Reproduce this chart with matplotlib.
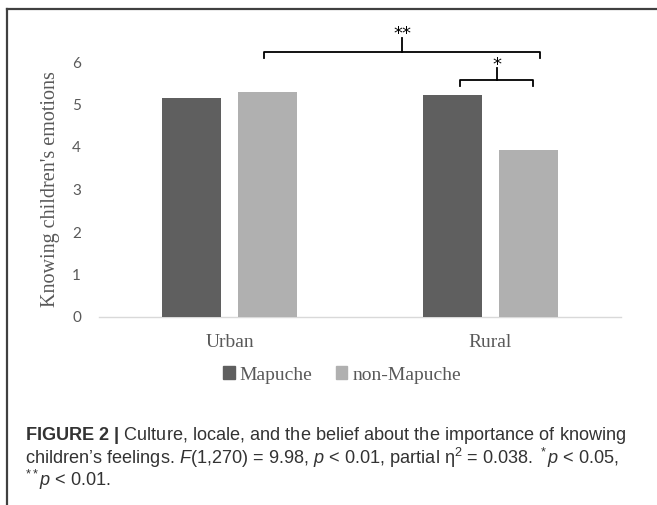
import numpy as np
import matplotlib
matplotlib.use("Agg")
import matplotlib.pyplot as plt
from matplotlib.lines import Line2D
import matplotlib.patches as mpatches

# ── Data ──────────────────────────────────────────────────────────────────────
locales      = ["Urban", "Rural"]
groups       = ["Mapuche", "non-Mapuche"]
mapuche      = [5.16, 5.22]
non_mapuche  = [5.29, 3.92]
yticks       = [0, 1, 2, 3, 4, 5, 6]

# significance brackets: (x0, x1, y, stem, label_offset, label) in data units
brackets = [
    (0.132, 1.190, 6.23, 0.33, 0.31, "**"),
    (0.883, 1.163, 5.58, 0.28, 0.24, "*"),
]

DARK  = "#5f5f5f"
LIGHT = "#b0b0b0"
GRAY_TXT = "#595959"

plt.rcParams["mathtext.fontset"] = "custom"
plt.rcParams["mathtext.rm"] = "Liberation Sans"
plt.rcParams["mathtext.it"] = "Liberation Sans:italic"
plt.rcParams["mathtext.bf"] = "Liberation Sans:bold"

fig = plt.figure(figsize=(6.57, 5.05), dpi=100)
ax = fig.add_axes([99 / 657, 1 - 317 / 505, 522 / 657, 255 / 505])

x = np.arange(len(locales))
w = 0.226
off = 0.144
ax.bar(x - off, mapuche, width=w, color=DARK, label=groups[0], zorder=3)
ax.bar(x + off, non_mapuche, width=w, color=LIGHT, label=groups[1], zorder=3)

ax.set_xlim(-0.5, 1.5)
ax.set_ylim(0, 6)
ax.set_yticks(yticks)
ax.set_yticklabels([str(t) for t in yticks], fontfamily="Lato", fontsize=11, color=GRAY_TXT)
ax.set_xticks(x)
ax.set_xticklabels(locales, fontfamily="Liberation Serif", fontsize=14, color=GRAY_TXT)
ax.tick_params(axis="y", length=0, pad=13)
ax.tick_params(axis="x", length=0, pad=12)
for s in ["top", "right", "left"]:
    ax.spines[s].set_visible(False)
ax.spines["bottom"].set_color("#d9d9d9")
ax.spines["bottom"].set_linewidth(1.0)
ax.set_ylabel("Knowing children's emotions", fontfamily="Liberation Serif",
              fontsize=14.5, color=GRAY_TXT, labelpad=9)

# ── Significance brackets ────────────────────────────────────────────────────
for x0, x1, y, stem, loff, lab in brackets:
    xm = (x0 + x1) / 2
    ax.plot([x0, x0, x1, x1], [y - 0.14, y, y, y - 0.14], color="black",
            lw=1.3, clip_on=False, zorder=4)
    ax.plot([xm, xm], [y, y + stem], color="black", lw=1.3, clip_on=False, zorder=4)
    ax.text(xm, y + loff, lab, ha="center", va="baseline", fontsize=13,
            fontfamily="DejaVu Sans", color="black")

# ── Legend ───────────────────────────────────────────────────────────────────
handles = [mpatches.Patch(color=DARK, label=groups[0]),
           mpatches.Patch(color=LIGHT, label=groups[1])]
leg = fig.legend(handles=handles, loc="center", bbox_to_anchor=(342 / 657, 1 - 375 / 505),
                 ncol=2, frameon=False, handlelength=0.6, handleheight=0.6,
                 handletextpad=0.25, columnspacing=1.2,
                 prop={"family": "Liberation Serif", "size": 14})
for t in leg.get_texts():
    t.set_color(GRAY_TXT)

# ── Frame (top + left edge) ──────────────────────────────────────────────────
fig.add_artist(Line2D([7 / 657, 1.0], [1 - 9 / 505, 1 - 9 / 505], color="#404040", lw=1.6))
fig.add_artist(Line2D([7 / 657, 7 / 657], [0, 1 - 9 / 505], color="#404040", lw=1.6))

# ── Caption ──────────────────────────────────────────────────────────────────
cap_kw = dict(ha="left", va="center", fontsize=13.1, color="#333333",
              fontfamily=["Liberation Sans Narrow", "Liberation Sans"])
fig.text(25 / 657, 1 - 435 / 505,
         r"$\mathbf{FIGURE\ 2\ |}$ Culture, locale, and the belief about the importance of knowing",
         **cap_kw)
fig.text(25 / 657, 1 - 458 / 505,
         r"children’s feelings. $\mathit{F}$(1,270) = 9.98, $\mathit{p}$ < 0.01, partial η$^2$ = 0.038. $^*\mathit{p}$ < 0.05,",
         **cap_kw)
fig.text(25 / 657, 1 - 480 / 505, r"$^{**}\mathit{p}$ < 0.01.", **cap_kw)

fig.savefig("out.png", dpi=100)
